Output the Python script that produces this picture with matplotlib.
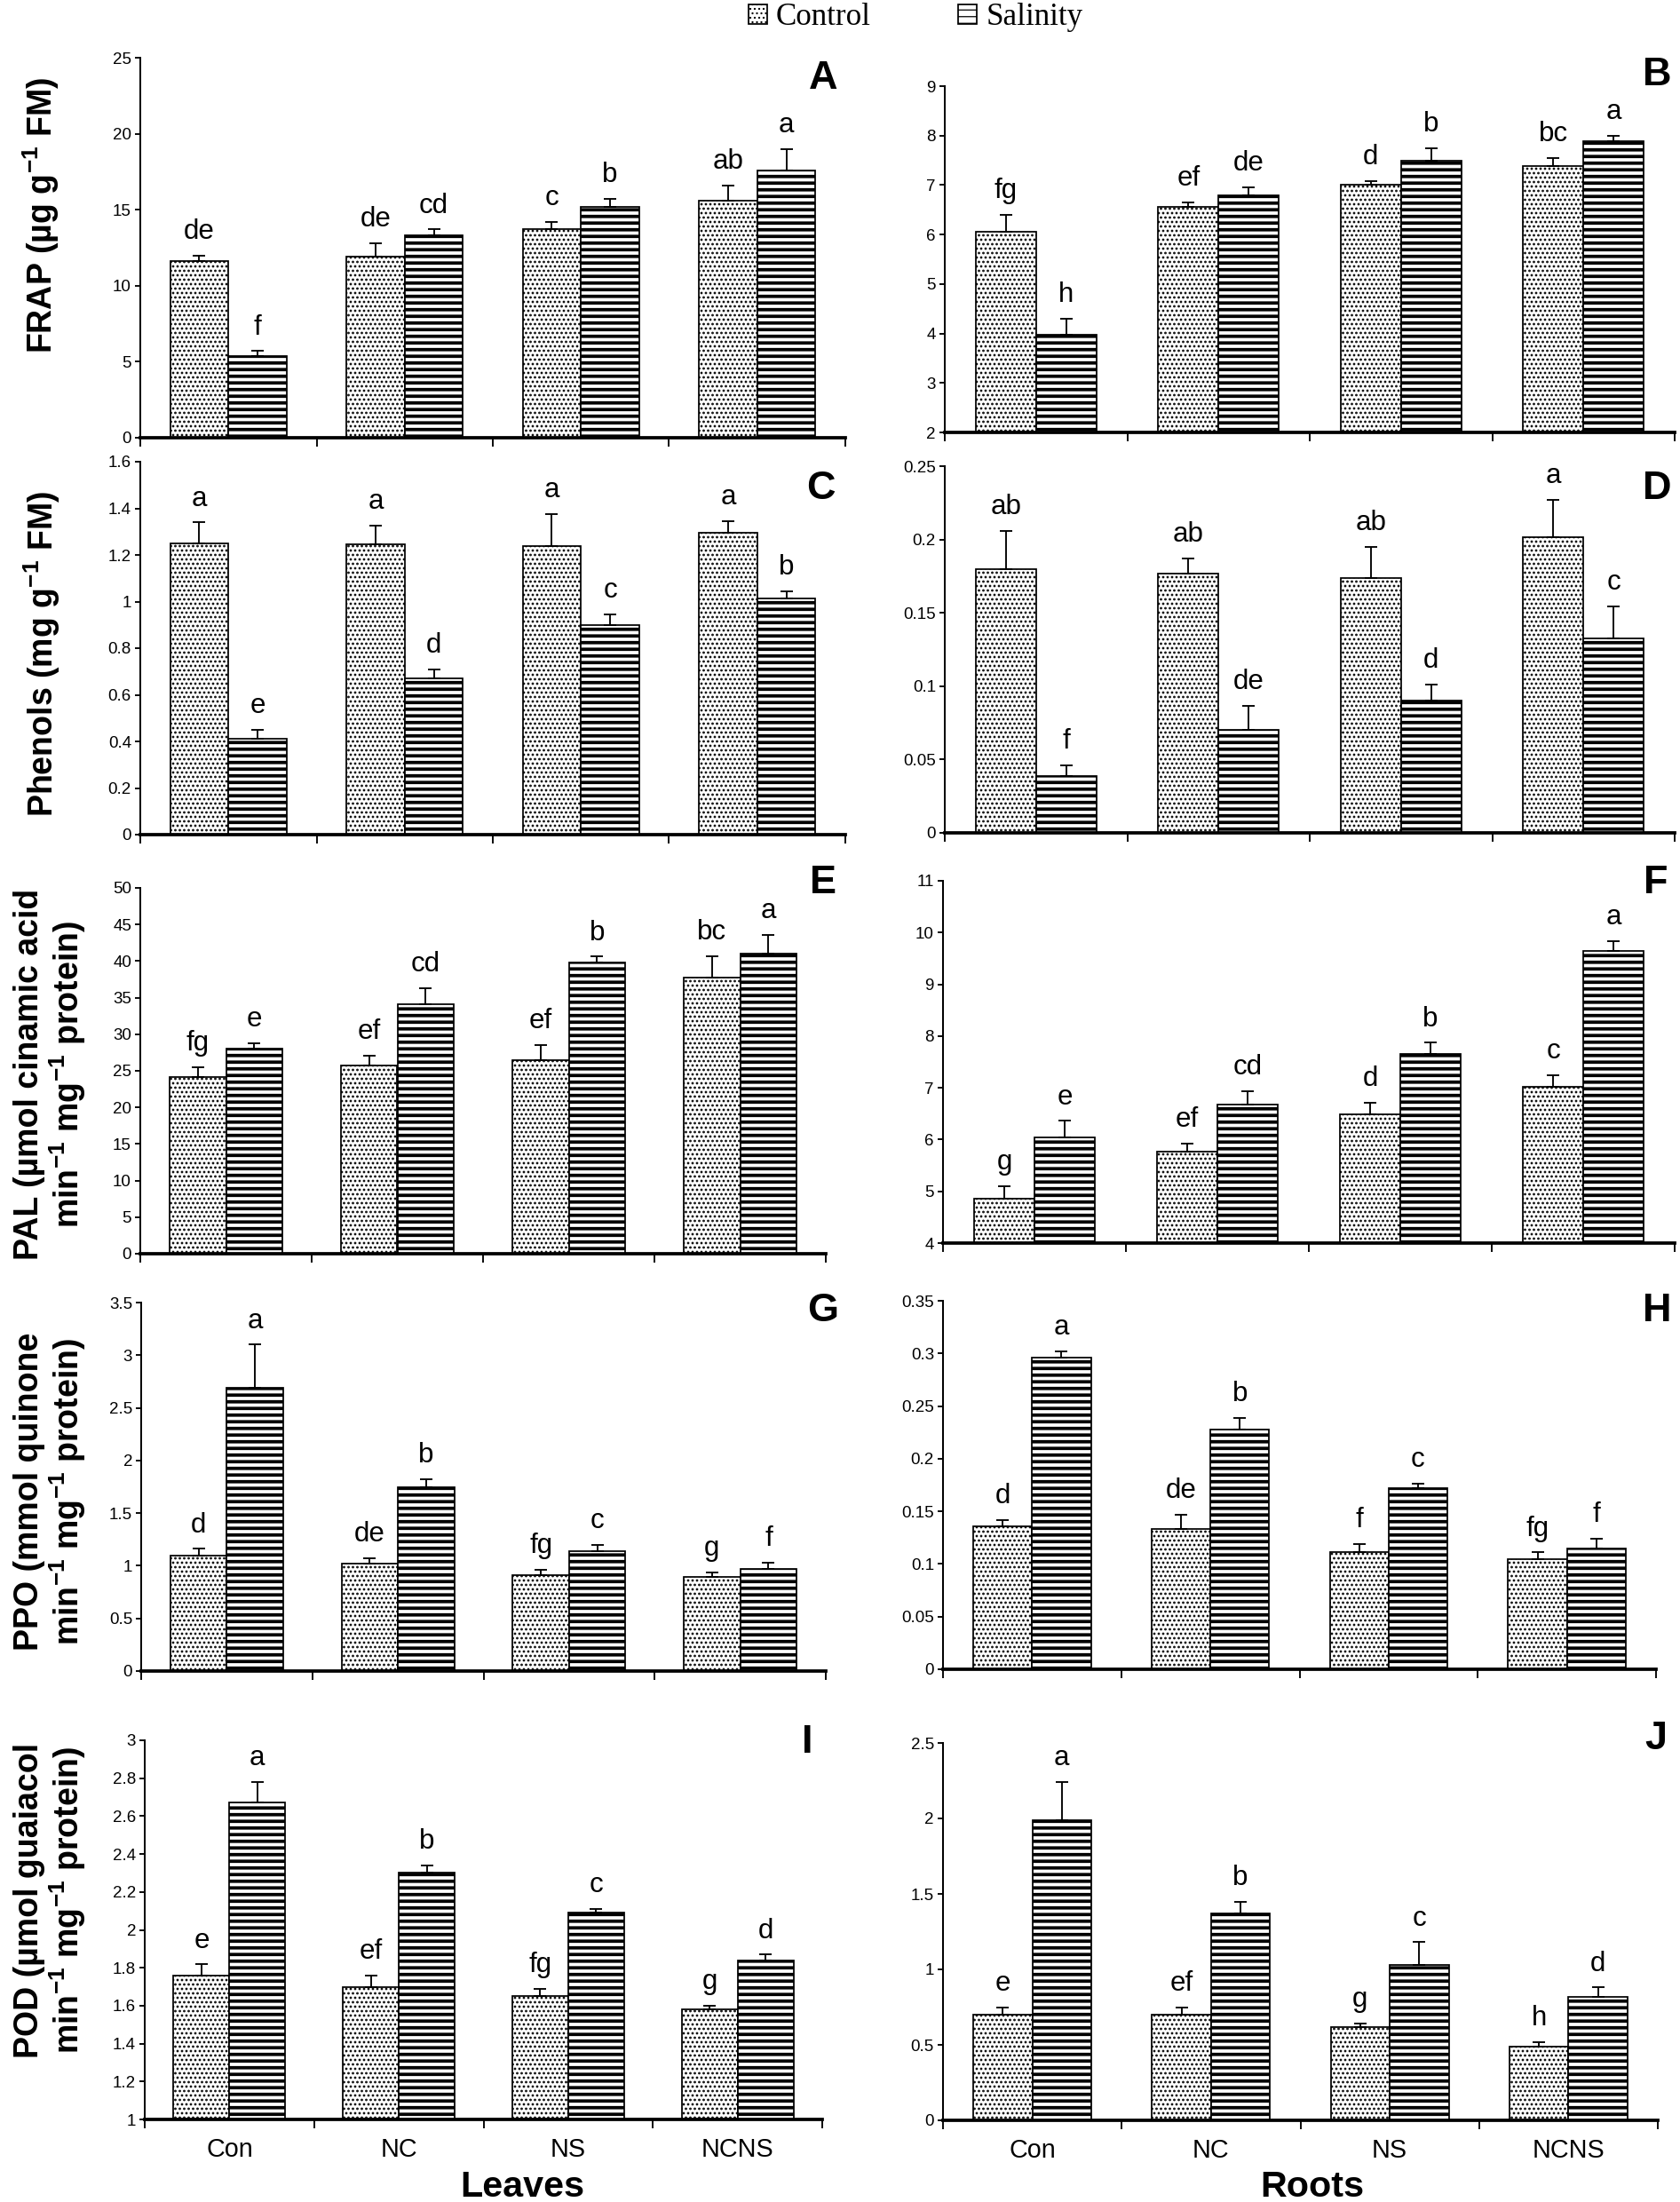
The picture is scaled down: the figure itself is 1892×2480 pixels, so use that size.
import numpy as np
import matplotlib
matplotlib.use('Agg')
import matplotlib.pyplot as plt
from matplotlib.ticker import FuncFormatter

plt.rcParams['font.family'] = ['Liberation Sans', 'DejaVu Sans']
plt.rcParams['mathtext.fontset'] = 'custom'
plt.rcParams['mathtext.rm'] = 'Liberation Sans'
plt.rcParams['mathtext.bf'] = 'Liberation Sans:bold'
plt.rcParams['mathtext.default'] = 'bf'
plt.rcParams['hatch.linewidth'] = 1.0
plt.rcParams['hatch.color'] = 'black'

# ---- data ----
treatments = ['Con', 'NC', 'NS', 'NCNS']
series_names = ['Control', 'Salinity']

# A: FRAP leaves
frap_leaf_ctrl = [11.6, 11.9, 13.7, 15.6]
frap_leaf_ctrl_err = [0.4, 0.9, 0.5, 1.0]
frap_leaf_sal = [5.4, 13.3, 15.2, 17.6]
frap_leaf_sal_err = [0.3, 0.4, 0.5, 1.4]
frap_leaf_letters = [['de', 'de', 'c', 'ab'], ['f', 'cd', 'b', 'a']]

# B: FRAP roots
frap_root_ctrl = [6.05, 6.55, 7.0, 7.38]
frap_root_ctrl_err = [0.35, 0.1, 0.08, 0.17]
frap_root_sal = [3.97, 6.79, 7.5, 7.88]
frap_root_sal_err = [0.33, 0.16, 0.25, 0.12]
frap_root_letters = [['fg', 'ef', 'd', 'bc'], ['h', 'de', 'b', 'a']]

# C: Phenols leaves
phen_leaf_ctrl = [1.25, 1.245, 1.24, 1.295]
phen_leaf_ctrl_err = [0.09, 0.08, 0.135, 0.05]
phen_leaf_sal = [0.41, 0.67, 0.90, 1.015]
phen_leaf_sal_err = [0.04, 0.04, 0.045, 0.03]
phen_leaf_letters = [['a', 'a', 'a', 'a'], ['e', 'd', 'c', 'b']]

# D: Phenols roots
phen_root_ctrl = [0.180, 0.177, 0.174, 0.2015]
phen_root_ctrl_err = [0.026, 0.010, 0.021, 0.0255]
phen_root_sal = [0.039, 0.070, 0.090, 0.1325]
phen_root_sal_err = [0.007, 0.0166, 0.011, 0.022]
phen_root_letters = [['ab', 'ab', 'ab', 'a'], ['f', 'de', 'd', 'c']]

# E: PAL leaves
pal_leaf_ctrl = [24.2, 25.7, 26.4, 37.8]
pal_leaf_ctrl_err = [1.3, 1.4, 2.1, 2.9]
pal_leaf_sal = [28.0, 34.1, 39.8, 41.0]
pal_leaf_sal_err = [0.8, 2.2, 0.8, 2.6]
pal_leaf_letters = [['fg', 'ef', 'ef', 'bc'], ['e', 'cd', 'b', 'a']]

# F: PAL roots
pal_root_ctrl = [4.85, 5.76, 6.49, 7.02]
pal_root_ctrl_err = [0.25, 0.17, 0.22, 0.23]
pal_root_sal = [6.05, 6.67, 7.66, 9.64]
pal_root_sal_err = [0.31, 0.26, 0.21, 0.2]
pal_root_letters = [['g', 'ef', 'd', 'c'], ['e', 'cd', 'b', 'a']]

# G: PPO leaves
ppo_leaf_ctrl = [1.10, 1.02, 0.91, 0.89]
ppo_leaf_ctrl_err = [0.06, 0.05, 0.05, 0.05]
ppo_leaf_sal = [2.69, 1.75, 1.14, 0.97]
ppo_leaf_sal_err = [0.41, 0.07, 0.06, 0.06]
ppo_leaf_letters = [['d', 'de', 'fg', 'g'], ['a', 'b', 'c', 'f']]

# H: PPO roots
ppo_root_ctrl = [0.136, 0.133, 0.111, 0.105]
ppo_root_ctrl_err = [0.006, 0.014, 0.008, 0.006]
ppo_root_sal = [0.296, 0.228, 0.172, 0.115]
ppo_root_sal_err = [0.006, 0.011, 0.0045, 0.009]
ppo_root_letters = [['d', 'de', 'f', 'fg'], ['a', 'b', 'c', 'f']]

# I: POD leaves
pod_leaf_ctrl = [1.758, 1.70, 1.65, 1.58]
pod_leaf_ctrl_err = [0.06, 0.06, 0.04, 0.02]
pod_leaf_sal = [2.67, 2.30, 2.09, 1.84]
pod_leaf_sal_err = [0.11, 0.04, 0.02, 0.03]
pod_leaf_letters = [['e', 'ef', 'fg', 'g'], ['a', 'b', 'c', 'd']]

# J: POD roots
pod_root_ctrl = [0.70, 0.70, 0.62, 0.49]
pod_root_ctrl_err = [0.05, 0.05, 0.02, 0.03]
pod_root_sal = [1.99, 1.37, 1.03, 0.82]
pod_root_sal_err = [0.25, 0.08, 0.15, 0.06]
pod_root_letters = [['e', 'ef', 'g', 'h'], ['a', 'b', 'c', 'd']]

ylabels = {
    'A': 'FRAP (µg g$^{-1}$ FM)',
    'C': 'Phenols (mg g$^{-1}$ FM)',
    'E': 'PAL (µmol cinamic acid\nmin$^{-1}$ mg$^{-1}$ protein)',
    'G': 'PPO (mmol quinone\nmin$^{-1}$ mg$^{-1}$ protein)',
    'I': 'POD (µmol guaiacol\nmin$^{-1}$ mg$^{-1}$ protein)',
}

panels = [
    ('A', frap_leaf_ctrl, frap_leaf_ctrl_err, frap_leaf_sal, frap_leaf_sal_err, frap_leaf_letters, (0, 25), 5),
    ('B', frap_root_ctrl, frap_root_ctrl_err, frap_root_sal, frap_root_sal_err, frap_root_letters, (2, 9), 1),
    ('C', phen_leaf_ctrl, phen_leaf_ctrl_err, phen_leaf_sal, phen_leaf_sal_err, phen_leaf_letters, (0, 1.6), 0.2),
    ('D', phen_root_ctrl, phen_root_ctrl_err, phen_root_sal, phen_root_sal_err, phen_root_letters, (0, 0.25), 0.05),
    ('E', pal_leaf_ctrl, pal_leaf_ctrl_err, pal_leaf_sal, pal_leaf_sal_err, pal_leaf_letters, (0, 50), 5),
    ('F', pal_root_ctrl, pal_root_ctrl_err, pal_root_sal, pal_root_sal_err, pal_root_letters, (4, 11), 1),
    ('G', ppo_leaf_ctrl, ppo_leaf_ctrl_err, ppo_leaf_sal, ppo_leaf_sal_err, ppo_leaf_letters, (0, 3.5), 0.5),
    ('H', ppo_root_ctrl, ppo_root_ctrl_err, ppo_root_sal, ppo_root_sal_err, ppo_root_letters, (0, 0.35), 0.05),
    ('I', pod_leaf_ctrl, pod_leaf_ctrl_err, pod_leaf_sal, pod_leaf_sal_err, pod_leaf_letters, (1, 3), 0.2),
    ('J', pod_root_ctrl, pod_root_ctrl_err, pod_root_sal, pod_root_sal_err, pod_root_letters, (0, 2.5), 0.5),
]

# ---- layout in pixels of the 1892x2480 output ----
W, H = 1892, 2480
DPI = 90

# x0, x1, y_top, y_bottom of each axes
axes_px = {
    'A': (158, 952, 65, 493), 'B': (1064, 1886, 97, 487),
    'C': (158, 952, 520, 940), 'D': (1064, 1886, 525, 938),
    'E': (158, 930, 1000, 1412), 'F': (1062, 1886, 992, 1400),
    'G': (159, 930, 1467, 1882), 'H': (1062, 1865, 1465, 1880),
    'I': (163, 926, 1960, 2387), 'J': (1062, 1867, 1963, 2388),
}
tag_px = {
    'A': (927, 88), 'B': (1866, 85), 'C': (924, 550), 'D': (1866, 550),
    'E': (927, 995), 'F': (1865, 995), 'G': (927, 1477), 'H': (1866, 1477),
    'I': (909, 1962), 'J': (1865, 1958),
}
ylabel_px = {'A': (46, 242), 'C': (47, 737), 'E': (57, 1210), 'G': (57, 1680), 'I': (57, 2140)}


def fx(px):
    return px / W


def fy(py):
    return 1 - py / H


fig = plt.figure(figsize=(W / DPI, H / DPI), dpi=DPI)

xc = np.arange(len(treatments)) + 0.5
bw = 0.33
fmt = FuncFormatter(lambda v, pos: f'{round(v, 4):g}')
legend_handles = None

for tag, ctrl, ctrl_err, sal, sal_err, letters, ylim, step in panels:
    x0, x1, yt, yb = axes_px[tag]
    ax = fig.add_axes([fx(x0), fy(yb), (x1 - x0) / W, (yb - yt) / H])

    with plt.rc_context({'hatch.linewidth': 1.4}):
        b1 = ax.bar(xc - bw / 2, ctrl, bw, color='white', edgecolor='black',
                    linewidth=1.4, hatch='...', zorder=2)
    with plt.rc_context({'hatch.linewidth': 3.0}):
        b2 = ax.bar(xc + bw / 2, sal, bw, color='white', edgecolor='black',
                    linewidth=1.4, hatch='--', zorder=2)
    for bars, hlw in [(b1, 1.4), (b2, 3.0)]:
        for r in bars:
            if hasattr(r, 'set_hatch_linewidth'):
                r.set_hatch_linewidth(hlw)
    if legend_handles is None:
        legend_handles = [b1, b2]

    # only the upper half of each error bar is shown
    for xs, vals, errs in [(xc - bw / 2, ctrl, ctrl_err), (xc + bw / 2, sal, sal_err)]:
        ax.errorbar(xs, vals, yerr=[np.zeros(len(vals)), errs], fmt='none', ecolor='black',
                    elinewidth=1.5, capsize=5.5, capthick=1.5, zorder=3)

    for xs, vals, errs, labs in [(xc - bw / 2, ctrl, ctrl_err, letters[0]),
                                  (xc + bw / 2, sal, sal_err, letters[1])]:
        for xi, v, e, lab in zip(xs, vals, errs, labs):
            ax.annotate(lab, (xi, v + e), xytext=(0, 15), textcoords='offset points',
                        ha='center', va='baseline', fontsize=25)

    ax.set_xlim(0, len(treatments))
    ax.set_ylim(*ylim)
    ax.set_yticks(np.arange(ylim[0], ylim[1] + step / 2, step))
    ax.yaxis.set_major_formatter(fmt)
    ax.set_xticks(np.arange(len(treatments) + 1))
    ax.set_xticklabels([])
    ax.tick_params(axis='y', direction='out', length=5, width=1.5, labelsize=15, pad=3)
    ax.tick_params(axis='x', which='major', direction='out', length=8, width=1.5)

    for s in ['top', 'right']:
        ax.spines[s].set_visible(False)
    ax.spines['left'].set_linewidth(1.6)
    ax.spines['bottom'].set_linewidth(3.0)

    if tag in ('I', 'J'):
        ax.set_xticks(xc, minor=True)
        ax.set_xticklabels(treatments, minor=True)
        ax.tick_params(axis='x', which='minor', length=0, pad=16, labelsize=23)

    if tag in ylabels:
        ax.set_ylabel(ylabels[tag], fontsize=30, fontweight='bold', linespacing=1.05, va='center')
        lx, ly = ylabel_px[tag]
        ax.yaxis.set_label_coords(fx(lx), fy(ly), transform=fig.transFigure)

    tx, ty = tag_px[tag]
    fig.text(fx(tx), fy(ty), tag, fontsize=36, fontweight='bold', ha='center', va='center')

fig.text(fx(588), fy(2463), 'Leaves', fontsize=33, fontweight='bold', ha='center', va='center')
fig.text(fx(1478), fy(2463), 'Roots', fontsize=33, fontweight='bold', ha='center', va='center')

fig.legend(legend_handles, series_names, loc='center', bbox_to_anchor=(fx(1031), fy(20)),
           ncol=2, frameon=False, prop={'family': 'Liberation Serif', 'size': 28},
           handlelength=0.6, handleheight=0.6, handletextpad=0.3, columnspacing=2.8,
           borderpad=0)

fig.savefig('out.png', dpi=DPI)
